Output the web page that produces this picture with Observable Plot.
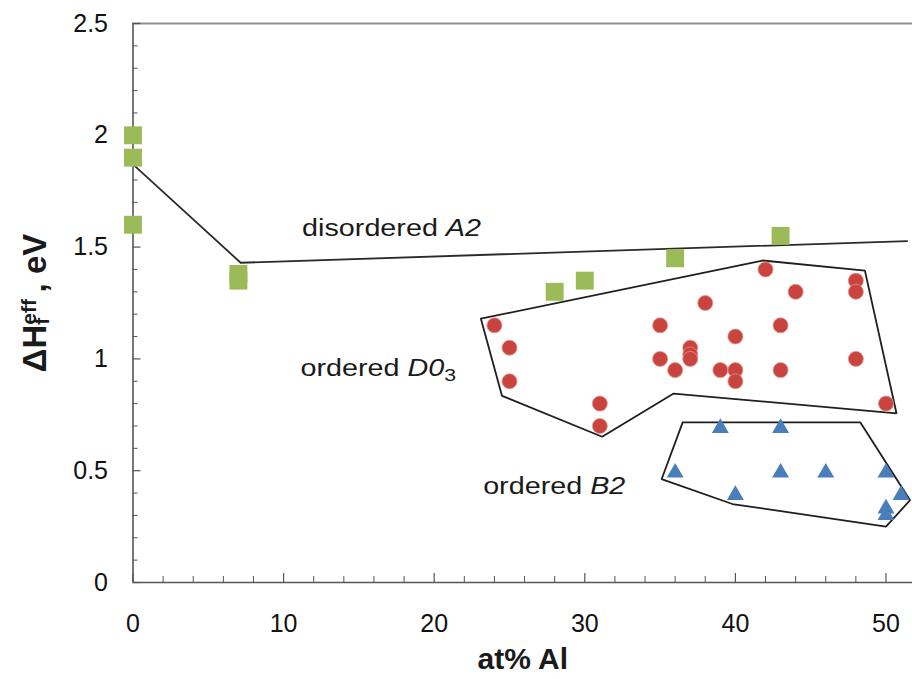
<!DOCTYPE html>
<html><head><meta charset="utf-8">
<script src="https://cdn.jsdelivr.net/npm/d3@7"></script>
<script src="https://cdn.jsdelivr.net/npm/@observablehq/plot@0.6"></script>
<style>html,body{margin:0;padding:0;background:#fff;}</style>
</head><body><div id="chart"></div>
<script>
// ---- data ----
const xTicks = [0, 10, 20, 30, 40, 50];
const xTickLabels = ["0", "10", "20", "30", "40", "50"];
const xMinorTicks = [2, 4, 6, 8, 12, 14, 16, 18, 22, 24, 26, 28, 32, 34, 36, 38, 42, 44, 46, 48];
const yTicks = [0, 0.5, 1, 1.5, 2, 2.5];
const yTickLabels = ["0", "0.5", "1", "1.5", "2", "2.5"];
const yMinorTicks = [0.1, 0.2, 0.3, 0.4, 0.6, 0.7, 0.8, 0.9, 1.1, 1.2, 1.3, 1.4, 1.6, 1.7, 1.8, 1.9, 2.1, 2.2, 2.3, 2.4];

// disordered A2 (green squares)
const a2X = [0, 0, 0, 7, 7, 28, 30, 36, 43];
const a2Y = [2.0, 1.9, 1.6, 1.38, 1.35, 1.30, 1.35, 1.45, 1.55];
// ordered D0_3 (red circles)
const d03X = [24, 25, 25, 31, 31, 35, 35, 36, 37, 37, 37, 38, 39, 40, 40, 40, 42, 43, 43, 44, 48, 48, 48, 50];
const d03Y = [1.15, 1.05, 0.9, 0.8, 0.7, 1.15, 1.0, 0.95, 1.05, 1.02, 1.0, 1.25, 0.95, 1.1, 0.95, 0.9, 1.4, 1.15, 0.95, 1.3, 1.35, 1.3, 1.0, 0.8];
// ordered B2 (blue triangles)
const b2X = [36, 39, 40, 43, 43, 46, 50, 50, 50, 51];
const b2Y = [0.5, 0.7, 0.4, 0.7, 0.5, 0.5, 0.5, 0.34, 0.31, 0.4];

// boundary lines
const a2LineX = [0, 7.15, 51.4];
const a2LineY = [1.87, 1.43, 1.527];
const d03PolyX = [23.1, 41.8, 48.6, 50.7, 35.9, 31.15, 24.5, 23.1];
const d03PolyY = [1.18, 1.44, 1.395, 0.756, 0.845, 0.652, 0.835, 1.18];
const b2PolyX = [36.5, 48.3, 51.6, 50.0, 39.8, 35.1, 36.5];
const b2PolyY = [0.716, 0.716, 0.368, 0.25, 0.351, 0.462, 0.716];

// annotations
const phaseLabel = ["disordered", "ordered", "ordered"];
const phaseItalic = ["A2", "D0", "B2"];
const phaseSub = ["", "3", ""];
const phaseX = [11.23, 11.12, 23.25];
const phaseY = [1.582, 0.956, 0.428];
const xLabel = "at% Al";
const yLabelParts = ["ΔH", "f", "eff", ", eV"];

// ---- chart ----
const W = 912, H = 679, mL = 132.5, mR = 0, mT = 23, mB = 97;
const innerW = W - mL - mR, innerH = H - mT - mB;
const pts = (X, Y) => X.map((x, i) => ({x, y: Y[i]}));
const font = "'Liberation Sans', Arial, sans-serif";

const plot = Plot.plot({
  width: W, height: H,
  marginLeft: mL, marginRight: mR, marginTop: mT, marginBottom: mB,
  x: {domain: [0, 51.76], axis: null},
  y: {domain: [0, 2.5], axis: null},
  style: {fontFamily: font, color: "#111", background: "#fff"},
  marks: [
    Plot.ruleY([2.5], {stroke: "#8f8f8f", strokeWidth: 2}),
    Plot.tickX(xMinorTicks, {x: d => d, stroke: "#555", strokeWidth: 1, insetTop: innerH - 6}),
    Plot.tickX(xTicks, {x: d => d, stroke: "#555", strokeWidth: 1.2, insetTop: innerH - 9}),
    Plot.tickY(yMinorTicks, {y: d => d, stroke: "#555", strokeWidth: 1, insetRight: innerW - 5}),
    Plot.tickY(yTicks, {y: d => d, stroke: "#555", strokeWidth: 1.2, insetRight: innerW - 8}),
    Plot.ruleX([0], {stroke: "#555", strokeWidth: 1.6}),
    Plot.ruleY([0], {stroke: "#555", strokeWidth: 1.6}),
    Plot.axisX(xTicks, {tickSize: 0, tickPadding: 32, fontSize: 25, label: null,
      tickFormat: d => xTickLabels[xTicks.indexOf(d)]}),
    Plot.axisY(yTicks, {tickSize: 0, tickPadding: 25, fontSize: 25, label: null,
      tickFormat: d => yTickLabels[yTicks.indexOf(d)]}),
    Plot.line(pts(a2LineX, a2LineY), {x: "x", y: "y", stroke: "#2a2a2a", strokeWidth: 1.8}),
    Plot.line(pts(d03PolyX, d03PolyY), {x: "x", y: "y", stroke: "#1f1f1f", strokeWidth: 1.8, strokeLinejoin: "miter"}),
    Plot.line(pts(b2PolyX, b2PolyY), {x: "x", y: "y", stroke: "#1f1f1f", strokeWidth: 1.8, strokeLinejoin: "miter"}),
    Plot.dot(pts(a2X, a2Y), {x: "x", y: "y", symbol: "square", r: 10.1, fill: "#9BBB59", stroke: "none"}),
    Plot.dot(pts(d03X, d03Y), {x: "x", y: "y", symbol: "circle", r: 7.5, fill: "#C9443F", stroke: "#e3908c", strokeWidth: 0.8}),
    Plot.dot(pts(b2X, b2Y), {x: "x", y: "y", symbol: "triangle", r: 6.3, dy: 2, fill: "#4A7EBB", stroke: "none"}),
    Plot.text(phaseLabel, {x: (d, i) => phaseX[i], y: (d, i) => phaseY[i], text: d => d,
      textAnchor: "start", fontSize: 23, fill: "#1a1a1a"}),
    Plot.text([xLabel], {frameAnchor: "bottom", dy: 86, text: d => d, fontSize: 30, fontWeight: "bold", fill: "#1a1a1a"}),
    Plot.text([yLabelParts[0]], {frameAnchor: "left", textAnchor: "middle", lineAnchor: "middle", dx: -97.5, rotate: -90,
      text: d => d, fontSize: 33, fontWeight: "bold", fill: "#1a1a1a"})
  ]
});

// ---- post-processing of rich text ----
const NS = "http://www.w3.org/2000/svg";
function tsp(parent, str, attrs) {
  const t = document.createElementNS(NS, "tspan");
  for (const k in attrs) t.setAttribute(k, attrs[k]);
  t.textContent = str;
  parent.appendChild(t);
  return t;
}
function stretch(t, sx) {
  const tr = t.getAttribute("transform") || "";
  t.setAttribute("transform", `${tr} scale(${sx},1)`);
}
const allText = Array.from(plot.querySelectorAll("text"));
const phaseNodes = allText.filter(t => phaseLabel.includes(t.textContent.trim()));
phaseNodes.forEach((t, i) => {
  t.textContent = "";
  t.appendChild(document.createTextNode(phaseLabel[i] + "\u00a0"));
  tsp(t, phaseItalic[i], {"font-style": "italic"});
  if (phaseSub[i]) tsp(t, phaseSub[i], {"font-size": 17, dy: 5});
  stretch(t, 1.25);
});
const yl = allText.find(t => t.textContent.trim() === yLabelParts[0]);
if (yl) {
  yl.textContent = "";
  yl.appendChild(document.createTextNode(yLabelParts[0]));
  tsp(yl, yLabelParts[1], {"font-size": 21, dy: 3});
  tsp(yl, yLabelParts[2], {"font-size": 21, dx: -7, dy: -13});
  tsp(yl, "\u2009" + yLabelParts[3], {"font-size": 33, dy: 10});
}
document.getElementById("chart").appendChild(plot);
</script>
</body></html>
